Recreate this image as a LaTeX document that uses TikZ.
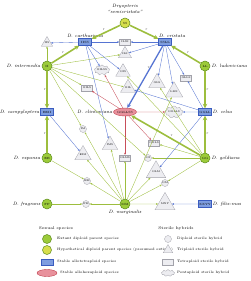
\documentclass[tikz,border=0pt]{standalone}
\usetikzlibrary{arrows.meta,shapes.geometric,shapes.symbols}
\definecolor{dipf}{HTML}{9CCB3A}
\definecolor{dipb}{HTML}{5E8C1E}
\definecolor{hypf}{HTML}{D6DE4C}
\definecolor{tetf}{HTML}{7E9DE0}
\definecolor{tetb}{HTML}{3A5CC0}
\definecolor{hexf}{HTML}{E8919C}
\definecolor{hexb}{HTML}{C0404E}
\definecolor{hf}{HTML}{EDEDF1}
\definecolor{hb}{HTML}{A2A2AA}
\definecolor{gline}{HTML}{9DBE3E}
\definecolor{bline}{HTML}{5674D2}
\definecolor{rline}{HTML}{C84E5A}
\tikzset{
 lab/.style={font=\fontsize{4.7}{5.2}\selectfont\itshape, inner sep=0.5pt},
 leg/.style={font=\fontsize{3.5}{4}\selectfont, inner sep=0pt, anchor=west},
 legh/.style={font=\fontsize{4}{5}\selectfont, inner sep=0pt},
 rlab/.style={font=\fontsize{3.5}{4}\selectfont\itshape, inner sep=0.5pt},
 dip/.style={circle, draw=dipb, fill=dipf, minimum size=10pt, inner sep=0pt, line width=0.5pt, font=\fontsize{3}{3}\selectfont},
 hyp/.style={dip, fill=hypf},
 tet/.style={rectangle, draw=tetb, fill=tetf, minimum width=13pt, minimum height=7pt, inner sep=0.5pt, line width=0.4pt, font=\fontsize{3}{3}\selectfont},
 hex/.style={ellipse, draw=hexb, fill=hexf, minimum width=23pt, minimum height=8pt, inner sep=0pt, line width=0.4pt, font=\fontsize{3}{3}\selectfont},
 hbase/.style={draw=hb, fill=hf, inner sep=0pt, line width=0.3pt, font=\fontsize{2.6}{3}\selectfont},
 htwo/.style={hbase, circle, minimum size=7pt},
 hthree/.style={hbase, regular polygon, regular polygon sides=3, minimum size=11pt},
 hfour/.style={hbase, rectangle, minimum width=11pt, minimum height=6pt, inner sep=0.4pt},
 hfive/.style={hbase, cloud, cloud puffs=9, aspect=2, minimum width=13pt, minimum height=7pt},
 tip/.style={-{Stealth[length=2.2pt,width=1.8pt]}},
 gl/.style={draw=gline, line width=0.35pt, tip},
 bl/.style={draw=bline, line width=0.35pt, tip},
 rl/.style={draw=rline, line width=0.35pt, tip},
 thg/.style={draw=gline, line width=1.6pt, -{Stealth[length=4.5pt,width=4.5pt]}},
 thb/.style={draw=bline, line width=1.3pt, -{Stealth[length=4pt,width=4pt]}},
}
\begin{document}
\begin{tikzpicture}[x=1pt,y=-1pt]
\useasboundingbox (0,0) rectangle (250,281);
% main species
\node[hyp] (SS) at (125,23) {SS};
\node[lab, align=center] (SSl) at (125,9) {Dryopteris\\\textquotedblleft semicristata\textquotedblright};
\node[tet] (IISS) at (85,42) {IISS};
\node[lab, anchor=south] (IISSl) at (85,38) {D. carthusiana};
\node[tet] (SSLL) at (165,42) {SSLL};
\node[lab, anchor=south] (SSLLl) at (172,38) {D. cristata};
\node[dip] (II) at (47,66) {II};
\node[lab, anchor=east] (IIl) at (41,66) {D. intermedia};
\node[dip] (LL) at (205,66) {LL};
\node[lab, anchor=west] (LLl) at (211,66) {D. ludoviciana};
\node[tet] (EEII) at (47,112) {EEII};
\node[lab, anchor=east] (EEIIl) at (40,112) {D. campyloptera};
\node[hex] (GGLLSS) at (125,112) {GGLLSS};
\node[lab, anchor=east] (GGLLSSl) at (113,112) {D. clintoniana};
\node[tet] (GGLL) at (205,112) {GGLL};
\node[lab, anchor=west] (GGLLl) at (212,112) {D. celsa};
\node[dip] (EE) at (47,158) {EE};
\node[lab, anchor=east] (EEl) at (41,158) {D. expansa};
\node[dip] (GG) at (205,158) {GG};
\node[lab, anchor=west] (GGl) at (211,158) {D. goldiana};
\node[dip] (FF) at (47,204) {FF};
\node[lab, anchor=east] (FFl) at (41,204) {D. fragrans};
\node[dip] (MM) at (125,204) {MM};
\node[lab, anchor=north] (MMl) at (125,210) {D. marginalis};
\node[tet] (XXYY) at (205,204) {XXYY};
\node[lab, anchor=west] (XXYYl) at (212,204) {D. filix-mas};
% sterile hybrids
\node[hthree] (IIS) at (47,43) {IIS};
\node[hfour] (ILSS) at (125,42) {ILSS};
\node[hthree] (ILS) at (125,54) {ILS};
\node[hfive] (GILSS) at (102,70) {GILSS};
\node[hthree] (GIS) at (123,72) {GIS};
\node[hfour] (GILS) at (87,88) {GILS};
\node[hthree] (GIL) at (128,88) {GIL};
\node[hthree] (GLS) at (157,83) {GLS};
\node[hfour] (GLLS) at (186,78) {GLLS};
\node[hthree] (LMS) at (174,92) {LMS};
\node[hfive] (GGLLS) at (174,112) {GGLLS};
\node[htwo] (IM) at (83,129) {IM};
\node[hfour] (GGLS) at (154,143) {GGLS};
\node[hthree] (IMS) at (110,145) {IMS};
\node[hthree] (EIM) at (83,155) {EIM};
\node[hfour] (GLMS) at (125,158) {GLMS};
\node[htwo] (GI) at (148,158) {GI};
\node[hthree] (GLM) at (156,172) {GLM};
\node[htwo] (EM) at (87,181) {EM};
\node[htwo] (GM) at (165,183) {GM};
\node[htwo] (FM) at (86,204) {FM};
\node[hthree] (MXY) at (165,204) {MXY};
% thin edges
\draw[gl] (II) -- (IIS);
\draw[bl] (IISS) -- (IIS);
\draw[bl] (IISS) -- (ILSS);
\draw[bl] (SSLL) -- (ILSS);
\draw[gl] (II) -- (ILS);
\draw[bl] (SSLL) -- (ILS);
\draw[bl] (IISS) -- (GILSS);
\draw[rl] (GGLLSS) -- (GILSS);
\draw[bl] (IISS) -- (GIS);
\draw[gl] (GG) -- (GIS);
\draw[gl] (II) -- (GILS);
\draw[rl] (GGLLSS) -- (GILS);
\draw[gl] (II) -- (GIL);
\draw[bl] (GGLL) -- (GIL);
\draw[bl] (SSLL) -- (GLS);
\draw[gl] (GG) -- (GLS);
\draw[bl] (SSLL) -- (GLLS);
\draw[bl] (GGLL) -- (GLLS);
\draw[bl] (SSLL) -- (LMS);
\draw[gl] (MM) -- (LMS);
\draw[rl] (GGLLSS) -- (GGLLS);
\draw[bl] (GGLL) -- (GGLLS);
\draw[gl] (II) -- (IM);
\draw[gl] (MM) -- (IM);
\draw[rl] (GGLLSS) -- (GGLS);
\draw[gl] (GG) -- (GGLS);
\draw[bl] (IISS) -- (IMS);
\draw[gl] (MM) -- (IMS);
\draw[bl] (EEII) -- (EIM);
\draw[gl] (MM) -- (EIM);
\draw[rl] (GGLLSS) -- (GLMS);
\draw[gl] (MM) -- (GLMS);
\draw[gl] (II) -- (GI);
\draw[gl] (GG) -- (GI);
\draw[bl] (GGLL) -- (GLM);
\draw[gl] (MM) -- (GLM);
\draw[gl] (EE) -- (EM);
\draw[gl] (MM) -- (EM);
\draw[gl] (GG) -- (GM);
\draw[gl] (MM) -- (GM);
\draw[gl] (FF) -- (FM);
\draw[gl] (MM) -- (FM);
\draw[gl] (MM) -- (MXY);
\draw[bl] (XXYY) -- (MXY);
% thick parental edges
\draw[thg] (SS) -- node[rlab, above left] {r} (IISS);
\draw[thg] (SS) -- node[rlab, above right] {r} (SSLL);
\draw[thg] (II) -- node[rlab, above left] {r} (IISS);
\draw[thg] (LL) -- node[rlab, above right] {r} (SSLL);
\draw[thg] (II) -- node[rlab, left] {r} (EEII);
\draw[thg] (EE) -- node[rlab, left] {r} (EEII);
\draw[thg] (LL) -- node[rlab, right] {r} (GGLL);
\draw[thg] (GG) -- node[rlab, right] {r} (GGLL);
\draw[thb] (SSLL) -- node[rlab, pos=0.35, left] {r} (GGLLSS);
\draw[thg] (GG) -- node[rlab, pos=0.45, above right] {r} (GGLLSS);
% legend
\node[legh] (LH1) at (56,228) {Sexual species};
\node[dip, minimum size=9pt] (L1) at (47,239) {};
\node[leg] (L1t) at (57,239) {Extant diploid parent species};
\node[hyp, minimum size=9pt] (L2) at (47,250) {};
\node[leg] (L2t) at (57,250) {Hypothetical diploid parent species (presumed extinct)};
\node[tet, minimum width=12pt, minimum height=6.5pt] (L3) at (47,262) {};
\node[leg] (L3t) at (57,262) {Stable allotetraploid species};
\node[hex, minimum width=20pt, minimum height=7pt] (L4) at (47,273) {};
\node[leg] (L4t) at (60,273) {Stable allohexaploid species};
\node[legh] (LH2) at (176,228) {Sterile hybrids};
\node[htwo] (R1) at (168,239) {};
\node[leg] (R1t) at (177,239) {Diploid sterile hybrid};
\node[hthree] (R2) at (168,250) {};
\node[leg] (R2t) at (177,250) {Triploid sterile hybrid};
\node[hfour, minimum height=6.5pt] (R3) at (168,262) {};
\node[leg] (R3t) at (177,262) {Tetraploid sterile hybrid};
\node[hfive] (R4) at (168,273) {};
\node[leg] (R4t) at (177,273) {Pentaploid sterile hybrid};
\end{tikzpicture}
\end{document}
